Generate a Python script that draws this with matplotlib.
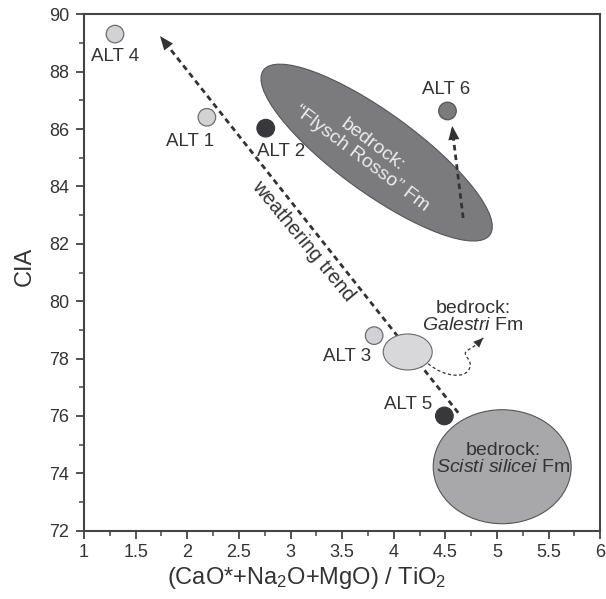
import matplotlib
matplotlib.use("Agg")
import matplotlib.pyplot as plt
from matplotlib.patches import Ellipse, PathPatch
from matplotlib.path import Path
from matplotlib.transforms import Affine2D
from matplotlib.ticker import MultipleLocator

plt.rcParams['font.family'] = ['Liberation Sans', 'DejaVu Sans']
plt.rcParams['mathtext.fontset'] = 'custom'
plt.rcParams['mathtext.rm'] = 'Liberation Sans'
plt.rcParams['mathtext.it'] = 'Liberation Sans:italic'

# ---- data ----
samples = ['ALT 1', 'ALT 2', 'ALT 3', 'ALT 4', 'ALT 5', 'ALT 6']
ratio = [2.19, 2.76, 3.81, 1.30, 4.49, 4.52]
cia = [86.41, 86.03, 78.80, 89.31, 76.00, 86.63]
point_fc = ['#d2d2d4', '#38383a', '#d2d2d4', '#d2d2d4', '#38383a', '#7b7b7d']
point_ec = ['#6e6e6e', '#38383a', '#6e6e6e', '#6e6e6e', '#38383a', '#555555']
label_x = [2.024, 2.907, 3.552, 1.302, 4.135, 4.506]
label_y = [85.58, 85.23, 78.07, 88.53, 76.39, 87.39]

x_ticks = [1, 1.5, 2, 2.5, 3, 3.5, 4, 4.5, 5, 5.5, 6]
x_ticklabels = ['1', '1.5', '2', '2.5', '3', '3.5', '4', '4.5', '5', '5.5', '6']
y_ticks = [72, 74, 76, 78, 80, 82, 84, 86, 88, 90]

# bedrock fields: centre (data), width/height (px), angle (deg)
fields = {
    'flysch':   dict(c=(3.834, 85.18), w=280, h=80, ang=-36, fc='#7b7b7e', ec='#555555'),
    'galestri': dict(c=(4.135, 78.23), w=49, h=36, ang=0, fc='#d8d8da', ec='#6a6a6a'),
    'scisti':   dict(c=(5.050, 74.23), w=138, h=114, ang=0, fc='#a8a8ab', ec='#555555'),
}

trend_start = (4.624, 76.11)
trend_tip = (1.736, 89.24)
alt6_start = (4.672, 82.90)
alt6_tip = (4.566, 86.11)
galestri_curve = [(4.333, 77.82), (4.498, 77.33), (4.721, 77.26), (4.740, 77.75),
                  (4.750, 78.03), (4.643, 78.13), (4.721, 78.30),
                  (4.798, 78.48), (4.866, 78.72)]

# ---- figure ----
W, H = 606, 599
fig = plt.figure(figsize=(W / 100, H / 100), dpi=100)
ax = fig.add_axes([84 / W, (H - 530.7) / H, (600.3 - 84) / W, (530.7 - 14.3) / H])
ax.set_xlim(1, 6)
ax.set_ylim(72, 90)
sx = (600.3 - 84) / 5.0
sy = (530.7 - 14.3) / 18.0

dark = '#333333'
for s in ax.spines.values():
    s.set_color('#444444')
    s.set_linewidth(1.5)
ax.set_xticks(x_ticks)
ax.set_xticklabels(x_ticklabels)
ax.set_yticks(y_ticks)
ax.xaxis.set_minor_locator(MultipleLocator(0.25))
ax.yaxis.set_minor_locator(MultipleLocator(1))
ax.tick_params(which='major', length=6, width=1.3, color='#444444', labelsize=13,
               labelcolor=dark, direction='out')
ax.tick_params(which='minor', length=3.5, width=1.1, color='#444444', direction='out')
ax.tick_params(axis='x', which='major', pad=3.5)
ax.tick_params(axis='y', which='major', pad=4.5)

fig.text(25 / W, 1 - 266.7 / H, 'CIA', rotation=90, ha='center', va='center',
         fontsize=17, color=dark)
fig.text(307 / W, 1 - 578 / H, r'(CaO*+Na$_2$O+MgO) / TiO$_2$', ha='center', va='center',
         fontsize=17, color=dark)

px_trans = Affine2D().scale(1 / sx, 1 / sy) + ax.transData


def add_field(f, z):
    e = Ellipse((f['c'][0] * sx, f['c'][1] * sy), f['w'], f['h'], angle=f['ang'],
                facecolor=f['fc'], edgecolor=f['ec'], lw=0.8, transform=px_trans, zorder=z)
    ax.add_patch(e)


def arrow_head(start, tip, color, hl, hw, z):
    ax.annotate('', xy=tip, xytext=start,
                arrowprops=dict(arrowstyle=f'-|>,head_length={hl},head_width={hw}',
                                color=color, lw=0, shrinkA=0, shrinkB=0),
                zorder=z)


# Flysch Rosso field
add_field(fields['flysch'], 2)
ax.text(3.742, 85.20, 'bedrock:\n\u201cFlysch Rosso\u201d Fm', rotation=-37, ha='center',
        va='center', multialignment='center', fontsize=14, color='#ececec',
        linespacing=1.0, rotation_mode='anchor', zorder=3)

# weathering trend arrow
tx = [trend_start[0], trend_tip[0] + (trend_start[0] - trend_tip[0]) * 0.015]
ty = [trend_start[1], trend_tip[1] + (trend_start[1] - trend_tip[1]) * 0.015]
ax.plot(tx, ty, color=dark, lw=2.0, linestyle=(0, (2.0, 1.5)), zorder=4)
arrow_head(trend_start, trend_tip, dark, 1.0, 0.4, 4)
ax.text(3.122, 82.10, 'weathering trend', rotation=-50.5, ha='center', va='center',
        fontsize=14.5, color=dark, rotation_mode='anchor', zorder=4)

# ALT 6 arrow
ax.plot([alt6_start[0], alt6_tip[0]], [alt6_start[1], alt6_tip[1] - 0.1], color=dark,
        lw=2.0, linestyle=(0, (2.0, 1.5)), zorder=4)
arrow_head(alt6_start, alt6_tip, dark, 1.0, 0.4, 4)

# Galestri field and curve
add_field(fields['galestri'], 5)
verts = galestri_curve
codes = [Path.MOVETO, Path.CURVE4, Path.CURVE4, Path.CURVE4,
         Path.CURVE4, Path.CURVE4, Path.CURVE4, Path.LINETO, Path.LINETO]
ax.add_patch(PathPatch(Path(verts, codes), facecolor='none', edgecolor=dark, lw=0.9,
                       linestyle=(0, (2.5, 2)), zorder=4))
arrow_head(galestri_curve[-2], galestri_curve[-1], dark, 0.7, 0.3, 4)
ax.text(4.768, 79.46, 'bedrock:\n$\\mathit{Galestri}$ Fm', ha='center', va='center',
        multialignment='center', fontsize=14, color=dark, linespacing=1.0, zorder=5)

# Scisti silicei field
add_field(fields['scisti'], 2)
ax.text(5.060, 74.50, 'bedrock:\n$\\mathit{Scisti\\ silicei}$ Fm', ha='center', va='center',
        multialignment='center', fontsize=14, color=dark, linespacing=1.0, zorder=3)

# points
ax.scatter(ratio, cia, s=160, c=point_fc, edgecolors=point_ec, linewidths=0.9, zorder=6)
for name, lx, ly in zip(samples, label_x, label_y):
    ax.text(lx, ly, name, ha='center', va='center', fontsize=13.5, color=dark, zorder=6)

fig.savefig('out.png', dpi=100)
